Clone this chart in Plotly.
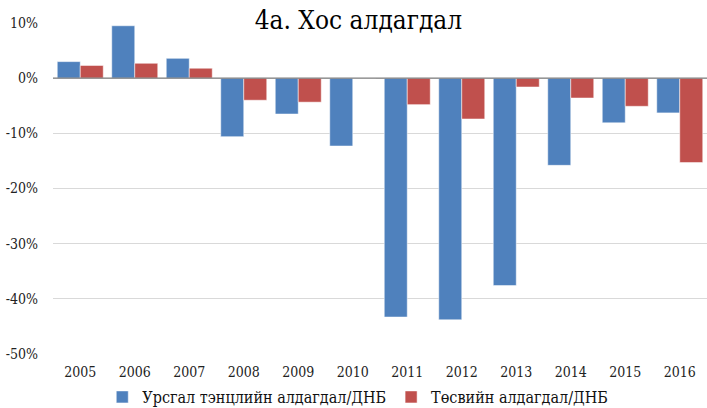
import plotly.graph_objects as go

years = ["2005", "2006", "2007", "2008", "2009", "2010", "2011", "2012", "2013", "2014", "2015", "2016"]
current_account = [3.0, 9.5, 3.6, -10.6, -6.5, -12.3, -43.3, -43.8, -37.6, -15.8, -8.1, -6.3]
budget = [2.3, 2.7, 1.8, -4.0, -4.35, 0.0, -4.8, -7.4, -1.6, -3.6, -5.1, -15.3]
name_ca = "Урсгал тэнцлийн алдагдал/ДНБ"
name_budget = "Төсвийн алдагдал/ДНБ"
title_text = "4a. Хос алдагдал"
y_ticks = [10, 0, -10, -20, -30, -40, -50]
y_tick_labels = ["10%", "0%", "-10%", "-20%", "-30%", "-40%", "-50%"]

serif = "DejaVu Serif Condensed, DejaVu Serif"

fig = go.Figure()
fig.add_trace(go.Bar(x=years, y=current_account, name=name_ca,
                     marker=dict(color="#4F81BD", line=dict(color="rgba(255,255,255,0.5)", width=1))))
fig.add_trace(go.Bar(x=years, y=budget, name=name_budget,
                     marker=dict(color="#C0504D", line=dict(color="rgba(255,255,255,0.5)", width=1))))

fig.add_shape(type="line", xref="paper", yref="y", x0=0, x1=1, y0=0, y1=0,
              line=dict(color="#7f7f7f", width=1.2), layer="above")

fig.update_layout(
    width=707, height=408,
    margin=dict(l=53, r=0, t=23, b=54, autoexpand=False),
    paper_bgcolor="white", plot_bgcolor="white",
    barmode="group", bargap=0.156, bargroupgap=0,
    font=dict(family=serif, color="#222222", size=14),
    title=dict(text=title_text, x=0.467, xanchor="center", xref="paper",
               y=0.952, yanchor="middle", automargin=False,
               font=dict(family=serif, size=26, color="#000000")),
    legend=dict(orientation="h", x=0.466, xanchor="center", y=-0.13, yanchor="middle",
                font=dict(family=serif, size=16, color="#111111"), itemwidth=30,
                traceorder="normal", bgcolor="rgba(0,0,0,0)"),
    showlegend=True,
)
fig.update_xaxes(type="category", showgrid=False, showline=False, ticks="", automargin=False,
                 ticklabelstandoff=8,
                 tickfont=dict(family=serif, size=14, color="#222222"))
fig.update_yaxes(range=[-50, 10], tickvals=y_ticks, ticktext=y_tick_labels, automargin=False,
                 showgrid=True, gridcolor="#d9d9d9", gridwidth=1, zeroline=False,
                 showline=False, ticks="", ticklabelstandoff=14,
                 tickfont=dict(family=serif, size=14, color="#222222"))

fig.write_html("out.html", config={"displayModeBar": False},
               post_script="document.body.style.margin='0';")
